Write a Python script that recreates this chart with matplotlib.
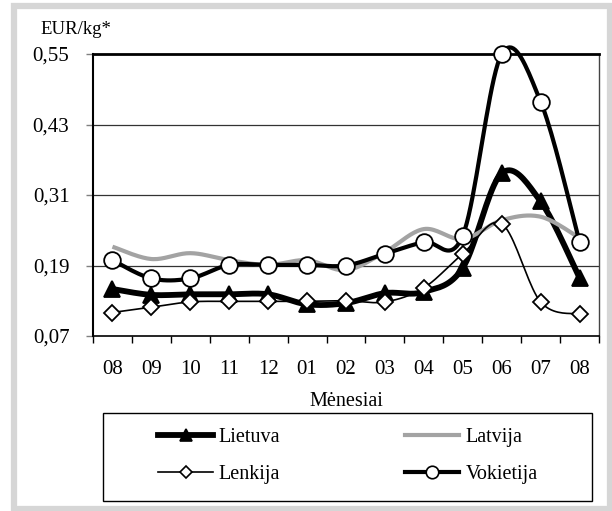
#
# kainos_grafikas.py
#

import numpy as np
import matplotlib.pyplot as plt
from matplotlib.lines import Line2D
from matplotlib.patches import Rectangle

menesiai = ["08", "09", "10", "11", "12", "01", "02", "03", "04", "05", "06", "07", "08"]

lietuva = [0.150, 0.140, 0.141, 0.141, 0.141, 0.124, 0.126, 0.143, 0.145, 0.186, 0.347, 0.299, 0.169]
latvija = [0.222, 0.201, 0.211, 0.199, 0.191, 0.199, 0.182, 0.213, 0.252, 0.235, 0.267, 0.273, 0.237]
lenkija = [0.110, 0.119, 0.128, 0.129, 0.129, 0.129, 0.130, 0.128, 0.152, 0.210, 0.261, 0.128, 0.107]
vokietija = [0.199, 0.168, 0.168, 0.191, 0.191, 0.191, 0.190, 0.210, 0.230, 0.241, 0.550, 0.469, 0.230]

y_ticks = [0.07, 0.19, 0.31, 0.43, 0.55]

plt.rcParams['font.family'] = ['Liberation Serif', 'DejaVu Serif']


def glotni(y, n=20):
    # Catmull-Rom kreive kaip Excel "smoothed line"
    y = np.asarray(y, dtype=float)
    x = np.arange(len(y), dtype=float)
    p = np.column_stack([x, y])
    p = np.vstack([p[0], p, p[-1]])
    xs, ys = [], []
    for i in range(1, len(p) - 2):
        p0, p1, p2, p3 = p[i - 1], p[i], p[i + 1], p[i + 2]
        c1 = p1 + (p2 - p0) / 6
        c2 = p2 - (p3 - p1) / 6
        t = np.linspace(0, 1, n, endpoint=False)[:, None]
        b = ((1 - t) ** 3) * p1 + 3 * ((1 - t) ** 2) * t * c1 + 3 * (1 - t) * t ** 2 * c2 + t ** 3 * p2
        xs.extend(b[:, 0])
        ys.extend(b[:, 1])
    xs.append(p[-2][0])
    ys.append(p[-2][1])
    return np.array(xs), np.array(ys)


fig = plt.figure(figsize=(6.12, 5.11), dpi=100)
ax = fig.add_axes([93 / 612, 1 - 336 / 511, 506 / 612, 282 / 511])

# pilkas remelis aplink
fig.patches.append(Rectangle((13.5 / 612, 2 / 511), 596 / 612, 503 / 511, transform=fig.transFigure,
                             fill=False, edgecolor='#d6d6d6', linewidth=4.5, zorder=0))

x = np.arange(len(menesiai))

stiliai = {
    "Lietuva": dict(y=lietuva, color='black', lw=4.2, marker='^', ms=11, mfc='black'),
    "Latvija": dict(y=latvija, color='#a3a3a3', lw=3.0, marker=None, ms=0, mfc='none'),
    "Lenkija": dict(y=lenkija, color='black', lw=1.2, marker='D', ms=8, mfc='white'),
    "Vokietija": dict(y=vokietija, color='black', lw=3.0, marker='o', ms=12, mfc='white'),
}

handles = {}
for i, (name, s) in enumerate(stiliai.items()):
    sx, sy = glotni(s["y"])
    ax.plot(sx, sy, color=s["color"], lw=s["lw"], solid_capstyle='butt', zorder=3 + i, clip_on=False)
    if s["marker"]:
        ax.plot(x, s["y"], linestyle='none', marker=s["marker"], ms=s["ms"], mfc=s["mfc"],
                mec='black', mew=1.3, zorder=3 + i, clip_on=False)
    handles[name] = Line2D([], [], color=s["color"], lw=s["lw"], marker=s["marker"], ms=s["ms"] * 0.75,
                           mfc=s["mfc"], mec='black', mew=1.2)

ax.set_xlim(-0.5, 12.5)
ax.set_ylim(0.07, 0.55)
ax.set_yticks(y_ticks)
ax.set_yticklabels([f"{v:.2f}".replace(".", ",") for v in y_ticks], fontsize=15)
ax.set_xticks(x)
ax.set_xticklabels(menesiai, fontsize=15)
ax.set_xticks(np.arange(-0.5, 13, 1), minor=True)
ax.tick_params(axis='x', which='major', length=0, pad=17.5)
ax.tick_params(axis='x', which='minor', length=5, width=1, direction='out')
ax.tick_params(axis='y', length=5, width=1, color='#808080', pad=12)

for v in y_ticks[1:-1]:
    ax.axhline(v, color='#333333', lw=0.9, zorder=1)

ax.spines['top'].set_linewidth(2.0)
ax.spines['left'].set_linewidth(1.5)
ax.spines['bottom'].set_linewidth(1.2)
ax.spines['right'].set_linewidth(1.0)
ax.spines['right'].set_color('#444444')

ax.set_xlabel("Mėnesiai", fontsize=14.5, labelpad=9)
fig.text(40 / 612, 1 - 30 / 511, "EUR/kg*", fontsize=13.5, va='center', ha='left')

# legendos remelis
fig.patches.append(Rectangle((103 / 612, 1 - 501 / 511), 489 / 612, 88 / 511, transform=fig.transFigure,
                             fill=False, edgecolor='black', linewidth=1.0))

order = ["Lietuva", "Lenkija", "Latvija", "Vokietija"]
fig.legend([handles[n] for n in order], order, loc='center', ncol=2,
           bbox_to_anchor=(348 / 612, 1 - 456 / 511), frameon=False, fontsize=14.5,
           handlelength=2.7, handletextpad=0.3, columnspacing=6.2, labelspacing=0.9)

plt.savefig("out.png", dpi=100)
